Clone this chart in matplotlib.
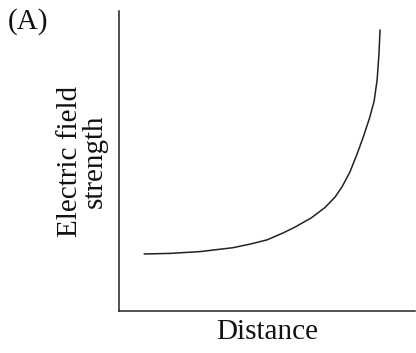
import matplotlib
matplotlib.use("Agg")
import matplotlib.pyplot as plt

# Curve values (arbitrary units, axes span 0..10)
distance = [0.85, 1.72, 2.74, 3.85, 4.43, 5.00, 5.54, 5.95, 6.49, 6.96,
            7.30, 7.53, 7.80, 8.05, 8.27, 8.47, 8.62, 8.72, 8.78, 8.82]
field = [1.90, 1.92, 1.98, 2.11, 2.23, 2.37, 2.60, 2.80, 3.10, 3.45,
         3.80, 4.13, 4.63, 5.25, 5.85, 6.45, 7.00, 7.70, 8.53, 9.37]

xlabel_text = "Distance"
ylabel_text = "Electric field\nstrength"
panel_text = "(A)"

plt.rcParams['font.family'] = ['Liberation Serif', 'DejaVu Serif']

W, H = 416, 353
fig = plt.figure(figsize=(W / 100, H / 100), dpi=100)
ax = fig.add_axes([119 / W, (H - 311) / H, 296 / W, 300 / H])

ax.plot(distance, field, color='#222222', lw=1.1, solid_capstyle='round',
        solid_joinstyle='round')
ax.set_xlim(0, 10)
ax.set_ylim(0, 10)

for s in ['top', 'right']:
    ax.spines[s].set_visible(False)
for s in ['left', 'bottom']:
    ax.spines[s].set_linewidth(1.1)
    ax.spines[s].set_color('#222222')
ax.set_xticks([])
ax.set_yticks([])

ax.set_xlabel(xlabel_text, fontsize=21, labelpad=6, color='#111111')
ax.set_ylabel(ylabel_text, fontsize=21, labelpad=8, linespacing=0.95, color='#111111')
fig.text(8 / W, 1 - 8 / H, panel_text, fontsize=21, ha='left', va='top', color='#111111')

fig.savefig("out.png", dpi=100)
